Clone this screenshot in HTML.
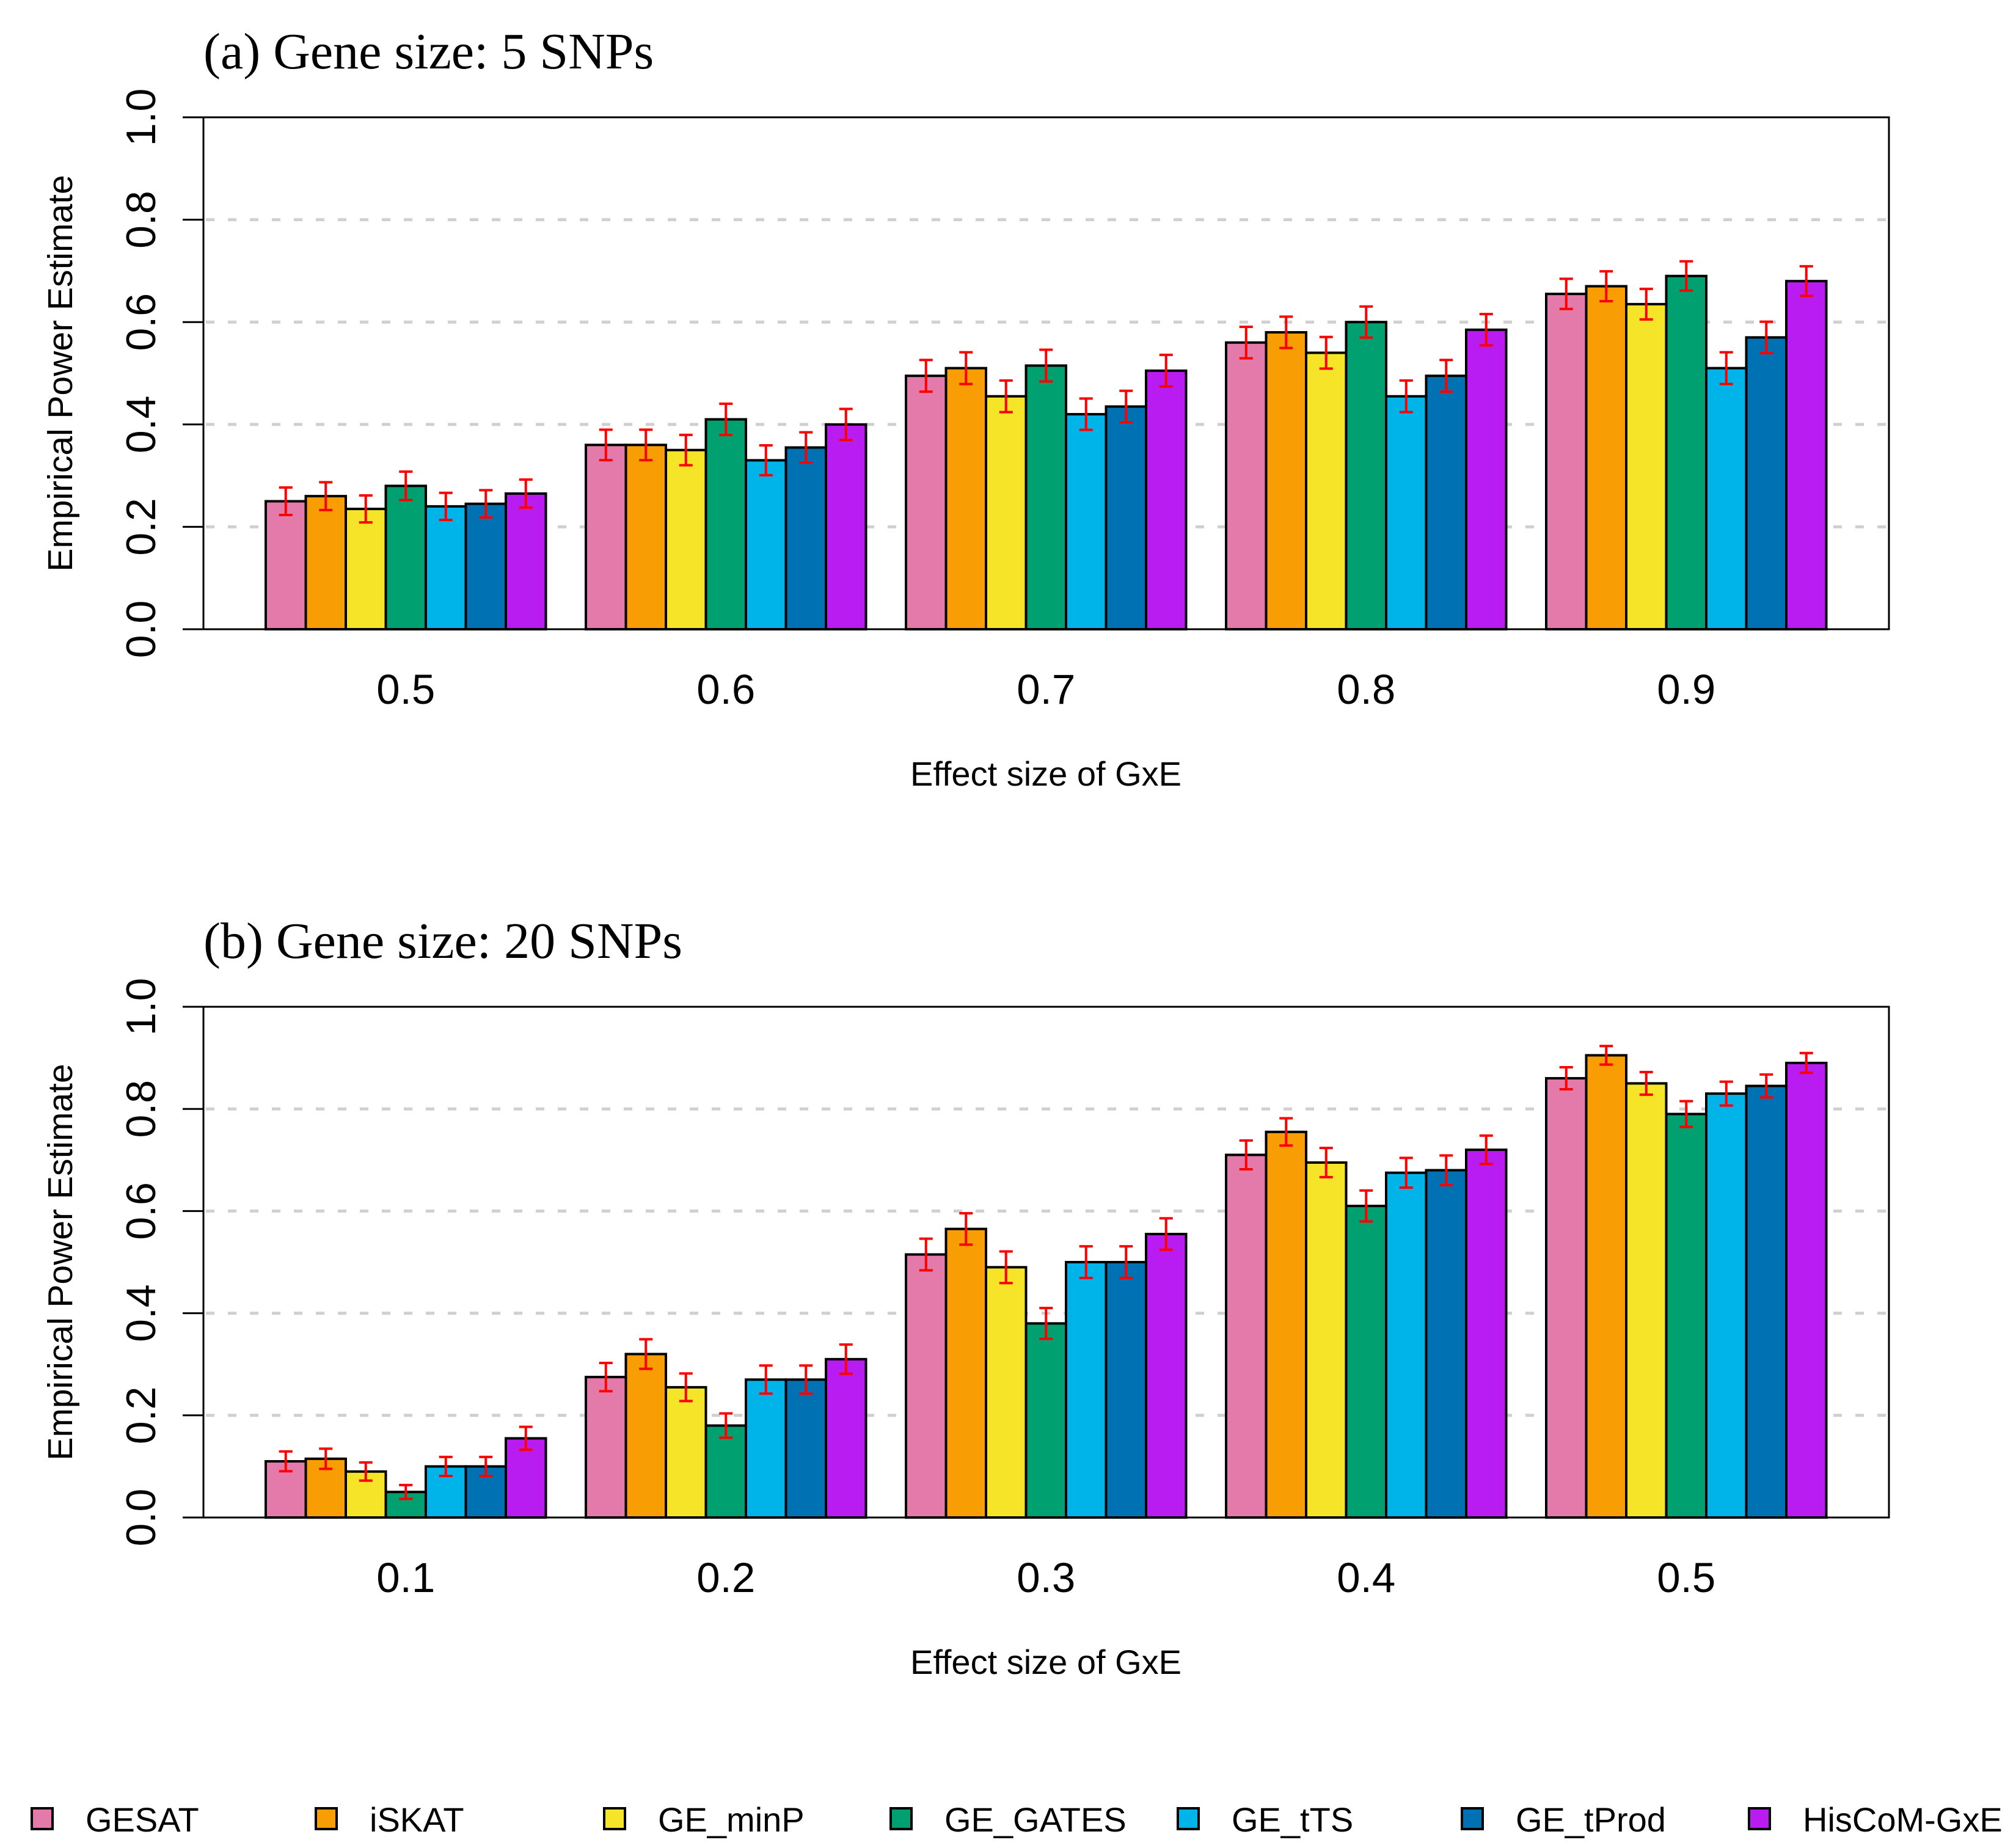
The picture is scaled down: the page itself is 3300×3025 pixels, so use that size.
<!DOCTYPE html>
<html><head><meta charset="utf-8"><style>
html,body{margin:0;padding:0;background:#fff;}
svg{display:block;}
</style></head><body>
<svg id="chart" xmlns="http://www.w3.org/2000/svg" width="3300" height="3025" viewBox="0 0 3300 3025">
<rect x="0" y="0" width="3300" height="3025" fill="#fff"/>
</svg>
<script>
const methods = ["GESAT","iSKAT","GE_minP","GE_GATES","GE_tTS","GE_tProd","HisCoM-GxE"];
const colors = ["#e47aa9","#f99d04","#f5e427","#00a070","#00b4ea","#0072b3","#b81cf0"];
const catsA = ["0.5","0.6","0.7","0.8","0.9"];
const catsB = ["0.1","0.2","0.3","0.4","0.5"];
const valsA = [
  [0.25,0.26,0.235,0.28,0.24,0.245,0.265],
  [0.36,0.36,0.35,0.41,0.33,0.355,0.40],
  [0.495,0.51,0.455,0.515,0.42,0.435,0.505],
  [0.56,0.58,0.54,0.60,0.455,0.495,0.585],
  [0.655,0.67,0.635,0.69,0.51,0.57,0.68]
];
const valsB = [
  [0.11,0.115,0.09,0.05,0.10,0.10,0.155],
  [0.275,0.32,0.255,0.18,0.27,0.27,0.31],
  [0.515,0.565,0.49,0.38,0.50,0.50,0.555],
  [0.71,0.755,0.695,0.61,0.675,0.68,0.72],
  [0.86,0.905,0.85,0.79,0.83,0.845,0.89]
];
const yTicks = ["0.0","0.2","0.4","0.6","0.8","1.0"];
const nSim = 1000;

const NS = "http://www.w3.org/2000/svg";
const svg = document.getElementById("chart");
function mk(tag, attrs, parent, text){
  const e = document.createElementNS(NS, tag);
  for (const k in attrs) e.setAttribute(k, attrs[k]);
  if (text !== undefined) e.textContent = text;
  (parent||svg).appendChild(e);
  return e;
}
const L = 333, R = 3092, BW = 65.5, X0 = 435, GS = 524;

function panel(id, title, cats, vals, top, bottom){
  const g = mk("g", {});
  
  
  const y = v => bottom - v*(bottom-top);
  const t = mk("text",{x:333,y:top-80,"font-family":"Liberation Serif, serif","font-size":84,fill:"#000"},g,title);
  
  
  yTicks.forEach((lab,i)=>{
    const v = parseFloat(lab);
    if (v>0 && v<1){
      const gl = mk("line",{x1:L+4,x2:R-4,y1:y(v),y2:y(v),stroke:"#d0d0d0","stroke-width":5,"stroke-dasharray":"14 22"},g);
      
      
    }
    const tk = mk("line",{x1:L-34,x2:L,y1:y(v),y2:y(v),stroke:"#000","stroke-width":3},g);
    
    
    const tl = mk("text",{x:0,y:0,transform:`translate(254,${y(v)}) rotate(-90)`,"text-anchor":"middle","font-family":"Liberation Sans, sans-serif","font-size":68,fill:"#000"},g,lab);
    
    
  });
  const yt = mk("text",{x:0,y:0,transform:`translate(118,${(top+bottom)/2}) rotate(-90)`,"text-anchor":"middle","font-family":"Liberation Sans, sans-serif","font-size":57,fill:"#000"},g,"Empirical Power Estimate");
  
  
  cats.forEach((c,ci)=>{
    vals[ci].forEach((v,mi)=>{
      const x = X0 + ci*GS + mi*BW;
      const b = mk("rect",{x:x,y:y(v),width:BW,height:bottom-y(v),fill:colors[mi],stroke:"#000","stroke-width":4},g);
      
      
    });
    vals[ci].forEach((v,mi)=>{
      const cx = X0 + ci*GS + mi*BW + BW/2;
      const e = 1.96*Math.sqrt(v*(1-v)/nSim);
      const eg = mk("path",{d:`M${cx},${y(v+e)}V${y(v-e)}M${cx-11},${y(v+e)}H${cx+11}M${cx-11},${y(v-e)}H${cx+11}`,stroke:"#ff0000","stroke-width":4,fill:"none"},g);
      
      
    });
    const xl = mk("text",{x:X0+ci*GS+3.5*BW,y:bottom+122,"text-anchor":"middle","font-family":"Liberation Sans, sans-serif","font-size":69,fill:"#000"},g,c);
    
    
  });
  const fr = mk("rect",{x:L,y:top,width:R-L,height:bottom-top,fill:"none",stroke:"#000","stroke-width":3},g);
  
  
  const xt = mk("text",{x:1712,y:bottom+256,"text-anchor":"middle","font-family":"Liberation Sans, sans-serif","font-size":56,fill:"#000"},g,"Effect size of GxE");
  
  
}
panel("panel-a","(a) Gene size: 5 SNPs",catsA,valsA,192,1030);
panel("panel-b","(b) Gene size: 20 SNPs",catsB,valsB,1648,2484);

const legX = [52,517,989,1458,1928,2393,2863];
const lg = mk("g",{});


methods.forEach((m,i)=>{
  const s = mk("rect",{x:legX[i],y:2960,width:34,height:34,fill:colors[i],stroke:"#000","stroke-width":4},lg);
  
  
  const t = mk("text",{x:legX[i]+88,y:2998,"font-family":"Liberation Sans, sans-serif","font-size":56,fill:"#000"},lg,m);
  
  
});
</script>
</body></html>
